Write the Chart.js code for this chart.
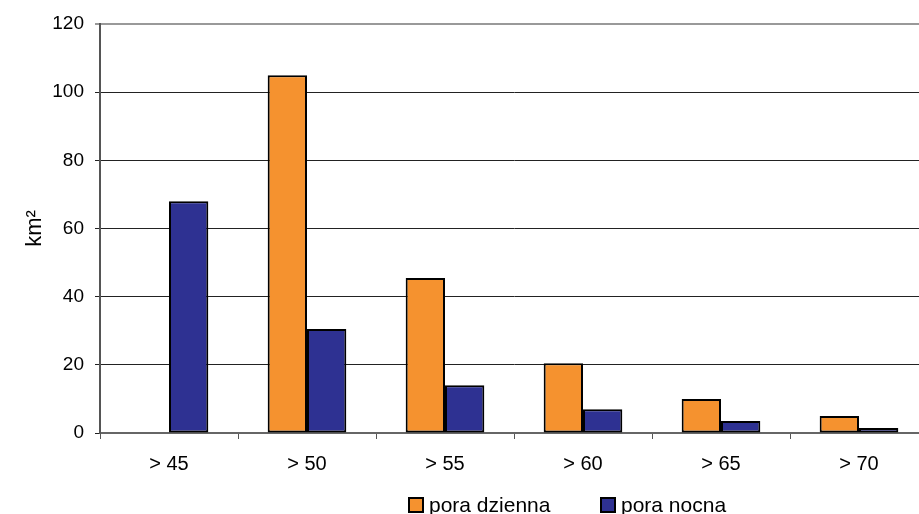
<!DOCTYPE html>
<html>
<head>
<meta charset="utf-8">
<script src="https://cdn.jsdelivr.net/npm/chart.js@4"></script>
<style>
html,body{margin:0;padding:0;background:#fff;overflow:hidden;}
#wrap{width:930px;height:514px;position:relative;}
</style>
</head>
<body>
<div id="wrap"><canvas id="c"></canvas></div>
<script>
const categories = ["> 45", "> 50", "> 55", "> 60", "> 65", "> 70"];
const dayValues = [null, 105, 45.5, 20.5, 10, 5];
const nightValues = [68, 30.5, 14, 7, 3.5, 1.5];
const seriesLabels = ["pora dzienna", "pora nocna"];
const yTicks = [0, 20, 40, 60, 80, 100, 120];
const yTitle = "km²";

const FONT = "'Liberation Sans', Arial, sans-serif";

const legendPlugin = {
  id: 'customLegend',
  afterDraw(chart) {
    const ctx = chart.ctx;
    const items = chart.data.datasets.map(d => ({label: d.label, color: d.backgroundColor}));
    const starts = [408, 600];
    ctx.save();
    ctx.font = "21px " + FONT;
    ctx.textBaseline = 'alphabetic';
    items.forEach((it, i) => {
      const x = starts[i];
      ctx.fillStyle = it.color;
      ctx.fillRect(x + 1, 498, 14, 14);
      ctx.strokeStyle = '#000';
      ctx.lineWidth = 2;
      ctx.strokeRect(x + 1, 498, 14, 14);
      ctx.fillStyle = '#000';
      ctx.fillText(it.label, x + 21, 512);
    });
    ctx.restore();
  }
};

new Chart(document.getElementById('c'), {
  type: 'bar',
  data: {
    labels: categories,
    datasets: [
      {label: seriesLabels[0], data: dayValues, backgroundColor: '#F5922F', borderColor: '#000', borderWidth: 2, borderSkipped: false},
      {label: seriesLabels[1], data: nightValues, backgroundColor: '#2E3192', borderColor: '#000', borderWidth: 2, borderSkipped: false}
    ]
  },
  options: {
    responsive: true,
    maintainAspectRatio: false,
    animation: false,
    layout: {padding: {top: 24, right: 2, left: 0, bottom: 10}},
    plugins: {legend: {display: false}, tooltip: {enabled: false}},
    datasets: {bar: {categoryPercentage: 0.57, barPercentage: 1.0}},
    scales: {
      x: {
        grid: {offset: true, drawOnChartArea: false, drawTicks: true, tickLength: 6, color: '#555', lineWidth: 1},
        border: {display: true, color: '#666', width: 2},
        ticks: {color: '#000', font: {family: FONT, size: 20}, padding: 13},
        afterFit(s) { s.height = 514 - 433 - 10; }
      },
      y: {
        min: 0, max: 120,
        afterBuildTicks(s) { s.ticks = yTicks.map(v => ({value: v})); },
        grid: {
          color: ctx => (ctx.tick && ctx.tick.value === 120) ? '#999' : '#222',
          lineWidth: ctx => (ctx.tick && ctx.tick.value === 120) ? 2 : 1,
          tickLength: 5, drawTicks: true
        },
        border: {display: true, color: '#555', width: 2},
        ticks: {color: '#000', font: {family: FONT, size: 19}, padding: 11},
        title: {display: true, text: yTitle, color: '#000', font: {family: FONT, size: 22}, padding: {top: 22, bottom: 0}},
        afterFit(s) { s.width = 100; }
      }
    }
  },
  plugins: [legendPlugin]
});
</script>
</body>
</html>
